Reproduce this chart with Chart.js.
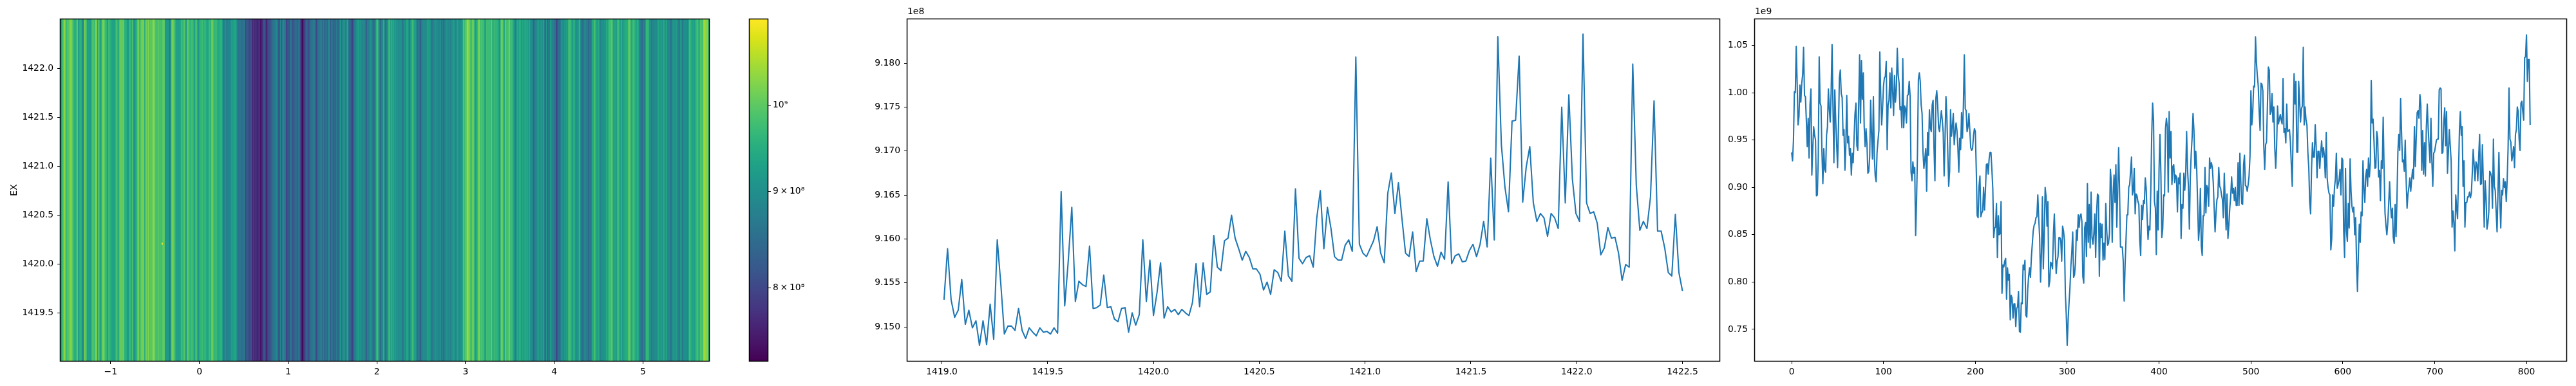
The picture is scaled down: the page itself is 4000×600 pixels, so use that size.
<!DOCTYPE html>
<html>
<head>
<meta charset="utf-8">
<script src="https://cdn.jsdelivr.net/npm/chart.js@4/dist/chart.umd.js"></script>
<style>
  body { margin: 0; background: #fff; }
  canvas { position: absolute; top: 0; }
</style>
</head>
<body>
<canvas id="heat" width="1120" height="600" style="left:0"></canvas>
<canvas id="bar" width="130" height="600" style="left:1130px"></canvas>
<canvas id="line1" width="1370" height="600" style="left:1310px"></canvas>
<canvas id="line2" width="1320" height="600" style="left:2680px"></canvas>
<script>
// second line panel, y in units of 1e8
const exValues = [
  9.1531,9.1589,9.1531,9.1511,9.1519,9.1554,9.1503,9.1519,9.1499,9.1507,9.1479,9.1507,9.1480,9.1526,9.1486,9.1599,
  9.1549,9.1492,9.1501,9.1501,9.1496,9.1521,9.1496,9.1487,9.1499,9.1494,9.1490,9.1499,9.1494,9.1495,9.1492,9.1499,
  9.1493,9.1654,9.1524,9.1575,9.1636,9.1529,9.1552,9.1548,9.1546,9.1592,9.1521,9.1522,9.1525,9.1559,9.1522,9.1523,
  9.1509,9.1506,9.1521,9.1522,9.1494,9.1516,9.1502,9.1514,9.1599,9.1529,9.1576,9.1513,9.1539,9.1573,9.1510,9.1523,
  9.1517,9.1520,9.1514,9.1520,9.1516,9.1513,9.1528,9.1572,9.1523,9.1573,9.1537,9.1540,9.1604,9.1568,9.1564,9.1598,
  9.1601,9.1627,9.1601,9.1589,9.1576,9.1586,9.1579,9.1566,9.1566,9.1560,9.1542,9.1551,9.1537,9.1565,9.1562,9.1552,
  9.1609,9.1558,9.1552,9.1657,9.1578,9.1572,9.1579,9.1581,9.1568,9.1624,9.1655,9.1589,9.1636,9.1612,9.1580,9.1576,
  9.1576,9.1593,9.1599,9.1586,9.1807,9.1594,9.1584,9.1580,9.1589,9.1598,9.1614,9.1584,9.1573,9.1652,9.1675,9.1629,
  9.1664,9.1623,9.1584,9.1580,9.1608,9.1563,9.1575,9.1575,9.1623,9.1599,9.1580,9.1569,9.1585,9.1577,9.1665,9.1572,
  9.1581,9.1583,9.1574,9.1575,9.1587,9.1594,9.1580,9.1594,9.1620,9.1591,9.1692,9.1599,9.1830,9.1707,9.1659,9.1631,
  9.1734,9.1735,9.1808,9.1642,9.1682,9.1705,9.1641,9.1620,9.1629,9.1624,9.1603,9.1629,9.1624,9.1612,9.1750,9.1641,
  9.1764,9.1668,9.1629,9.1620,9.1833,9.1641,9.1629,9.1631,9.1618,9.1582,9.1590,9.1613,9.1601,9.1602,9.1584,9.1553,
  9.1571,9.1568,9.1799,9.1661,9.1610,9.1620,9.1612,9.1648,9.1757,9.1609,9.1609,9.1590,9.1562,9.1558,9.1628,9.1562,
  9.1541
];
// third line panel, y in units of 1e9; the heatmap stripes are the same numbers
const lagValues = [
  0.937,0.928,0.950,1.001,1.000,1.049,1.010,0.966,0.975,1.008,0.990,1.010,1.019,1.048,0.997,0.996,0.971,0.943,0.973,0.931,
  0.987,1.004,0.913,0.941,0.964,0.955,0.950,0.891,0.892,0.932,1.038,0.989,0.986,0.937,0.904,0.941,0.919,0.916,0.955,0.964,
  1.004,0.983,0.969,1.000,1.051,0.987,0.926,1.003,0.971,0.946,0.921,0.964,1.016,1.024,0.999,0.995,0.955,0.961,0.918,0.944,
  0.997,0.947,0.954,0.934,0.941,0.913,0.936,0.926,0.953,0.978,0.989,0.944,0.939,0.987,1.040,0.968,1.034,0.993,1.021,0.964,
  0.943,0.962,0.946,0.915,0.917,0.933,0.992,0.955,0.930,0.996,0.933,0.912,0.906,0.937,0.949,0.960,1.043,0.998,0.966,0.983,
  1.007,1.016,1.017,1.033,0.940,0.987,0.992,1.021,0.984,1.026,1.001,0.976,1.018,0.990,1.003,1.047,1.019,1.010,0.982,0.985,
  0.963,1.036,0.963,0.986,0.983,0.968,0.997,0.998,1.012,0.996,0.916,0.907,0.927,0.915,0.921,0.849,0.885,0.937,1.014,1.021,
  1.012,0.987,0.978,0.937,0.920,0.930,0.941,0.896,0.958,0.934,0.982,0.963,0.959,0.987,0.992,0.941,0.907,0.994,1.002,0.987,
  0.963,0.959,0.971,0.981,0.971,0.958,0.912,0.951,0.996,0.974,0.937,0.901,0.917,0.982,0.954,0.964,0.978,0.945,0.958,0.968,
  0.960,0.942,0.916,0.952,0.940,0.979,0.952,0.987,1.040,0.983,0.981,0.959,0.964,0.978,0.960,0.942,0.939,0.941,0.955,0.962,
  0.959,0.919,0.870,0.868,0.901,0.912,0.869,0.873,0.875,0.900,0.876,0.897,0.924,0.925,0.914,0.930,0.937,0.937,0.919,0.899,
  0.847,0.857,0.858,0.883,0.826,0.870,0.850,0.851,0.885,0.788,0.818,0.816,0.822,0.825,0.782,0.815,0.802,0.808,0.760,0.786,
  0.783,0.762,0.777,0.777,0.753,0.772,0.774,0.790,0.748,0.747,0.778,0.777,0.818,0.813,0.823,0.765,0.763,0.792,0.806,0.815,
  0.805,0.826,0.840,0.854,0.860,0.862,0.868,0.869,0.892,0.867,0.847,0.800,0.831,0.890,0.814,0.851,0.900,0.890,0.859,0.885,
  0.795,0.801,0.821,0.819,0.814,0.851,0.872,0.838,0.809,0.822,0.827,0.847,0.847,0.844,0.822,0.859,0.854,0.844,0.788,0.765,
  0.733,0.760,0.778,0.794,0.817,0.831,0.853,0.805,0.808,0.820,0.855,0.844,0.871,0.858,0.870,0.872,0.864,0.806,0.799,0.857,
  0.863,0.827,0.904,0.842,0.882,0.836,0.895,0.847,0.840,0.851,0.872,0.826,0.873,0.893,0.891,0.806,0.862,0.847,0.861,0.823,
  0.841,0.824,0.883,0.855,0.839,0.841,0.851,0.919,0.906,0.842,0.892,0.913,0.884,0.924,0.858,0.896,0.942,0.896,0.837,0.837,
  0.837,0.822,0.780,0.817,0.844,0.871,0.871,0.900,0.903,0.917,0.932,0.892,0.897,0.920,0.872,0.893,0.891,0.885,0.882,0.844,
  0.828,0.881,0.866,0.886,0.883,0.910,0.899,0.869,0.845,0.859,0.855,0.896,0.955,0.989,0.971,0.885,0.878,0.829,0.896,0.855,
  0.919,0.956,0.914,0.847,0.856,0.892,0.891,0.962,0.973,0.964,0.895,0.980,0.931,0.959,0.903,0.922,0.924,0.905,0.913,0.911,
  0.874,0.910,0.904,0.915,0.846,0.882,0.878,0.915,0.897,0.914,0.959,0.919,0.901,0.856,0.910,0.935,0.953,0.978,0.960,0.920,
  0.938,0.919,0.883,0.844,0.858,0.899,0.838,0.828,0.870,0.870,0.921,0.873,0.902,0.899,0.880,0.931,0.920,0.926,0.921,0.905,
  0.878,0.853,0.873,0.887,0.890,0.921,0.901,0.899,0.892,0.887,0.868,0.915,0.885,0.855,0.893,0.846,0.860,0.878,0.890,0.911,
  0.894,0.899,0.886,0.900,0.881,0.881,0.926,0.881,0.936,0.906,0.883,0.882,0.924,0.934,0.902,0.901,0.896,0.903,0.912,0.933,
  1.002,0.966,0.980,1.007,1.006,1.059,1.032,1.018,1.007,0.980,0.960,1.010,1.009,1.002,0.944,0.919,0.945,0.948,0.987,1.027,
  1.024,0.977,0.980,0.999,0.969,0.985,0.941,0.920,0.944,0.986,0.967,0.972,0.977,0.971,0.967,1.015,0.958,0.962,0.947,0.988,
  0.959,0.960,0.961,0.948,0.924,0.901,0.964,1.020,0.988,1.012,0.937,0.937,1.012,0.992,0.969,0.983,0.986,1.048,0.966,0.985,
  0.971,0.966,0.937,0.921,0.885,0.872,0.919,0.947,0.932,0.932,0.966,0.944,0.910,0.938,0.938,0.920,0.937,0.949,0.932,0.942,
  0.933,0.910,0.958,0.910,0.900,0.894,0.892,0.834,0.846,0.892,0.880,0.900,0.909,0.936,0.899,0.903,0.908,0.919,0.892,0.931,
  0.929,0.854,0.826,0.920,0.854,0.843,0.883,0.857,0.930,0.896,0.880,0.874,0.879,0.850,0.868,0.822,0.790,0.829,0.861,0.842,
  0.874,0.870,0.928,0.899,0.884,0.912,0.919,0.901,0.931,0.911,0.926,1.013,0.968,0.972,0.949,0.920,0.921,0.959,0.952,0.911,
  0.918,0.886,0.928,0.920,0.974,0.919,0.873,0.860,0.850,0.862,0.883,0.906,0.881,0.868,0.878,0.847,0.841,0.882,0.848,0.887,
  0.937,0.956,0.939,0.994,0.958,0.927,0.929,0.917,0.950,0.908,0.878,0.893,0.900,0.910,0.896,0.908,0.919,0.909,0.964,0.922,
  0.953,0.979,0.981,0.973,0.998,0.987,0.918,0.960,0.914,0.947,0.912,0.964,0.988,0.962,0.944,0.926,0.973,0.928,0.901,0.936,
  0.938,0.944,0.950,0.951,0.951,1.003,1.005,1.004,0.936,0.937,0.969,0.984,0.944,0.980,0.915,0.937,0.961,0.944,0.928,0.858,
  0.875,0.862,0.833,0.892,0.878,0.867,0.915,0.960,0.980,0.955,0.964,0.901,0.928,0.858,0.884,0.884,0.890,0.890,0.895,0.889,
  0.894,0.915,0.940,0.924,0.907,0.927,0.924,0.907,0.933,0.956,0.903,0.904,0.945,0.906,0.858,0.907,0.890,0.856,0.862,0.874,
  0.917,0.915,0.911,0.878,0.951,0.901,0.897,0.874,0.853,0.897,0.937,0.887,0.857,0.897,0.892,0.909,0.900,0.906,0.885,0.908,
  0.942,1.005,0.951,0.948,0.928,0.934,0.943,0.921,0.956,0.961,0.985,0.980,0.951,0.939,0.989,0.991,0.980,0.971,1.037,1.038,
  1.061,1.012,1.035,1.035,0.966
];
// axis ticks
const heatXTicks = [-1, 0, 1, 2, 3, 4, 5];
const heatXLabels = ['\u22121', '0', '1', '2', '3', '4', '5'];
const heatYTicks = [1419.5, 1420, 1420.5, 1421, 1421.5, 1422];
const barTicks = [8e8, 9e8, 1e9];
const barLabels = ['8\u2009\u00d7\u200910\u2078', '9\u2009\u00d7\u200910\u2078', '10\u2079'];
const exXTicks = [1419, 1419.5, 1420, 1420.5, 1421, 1421.5, 1422, 1422.5];
const exYTicks = [9.15, 9.155, 9.16, 9.165, 9.17, 9.175, 9.18];
const lagXTicks = [0, 100, 200, 300, 400, 500, 600, 700, 800];
const lagYTicks = [0.75, 0.8, 0.85, 0.9, 0.95, 1, 1.05];
// the single bright cell in the heatmap
const hotX = [-0.419];
const hotY = [[1420.2, 1420.215]];

const EX_START = 1419.01, EX_END = 1422.5;
const LAG_START = -1.565, LAG_END = 5.745;
const V_MIN = 0.7315e9, V_MAX = 1.111e9;
const viridis = ['#440154','#481467','#482576','#453781','#404688','#39568c','#33638d','#2d708e','#287d8e','#238a8d','#1f968b','#20a386','#29af7f','#3cbc75','#56c667','#74d055','#94d840','#b8de29','#dce318','#fde725'];

const FONT = { family: 'DejaVu Sans', size: 13.9 };

function mix(a, b, t) {
  const ca = [1, 3, 5].map(i => parseInt(a.substr(i, 2), 16));
  const cb = [1, 3, 5].map(i => parseInt(b.substr(i, 2), 16));
  return 'rgb(' + ca.map((c, i) => Math.round(c + (cb[i] - c) * t)).join(',') + ')';
}

function colorFor(v) {
  const t = Math.log(v / V_MIN) / Math.log(V_MAX / V_MIN);
  const p = Math.min(Math.max(t, 0), 1) * (viridis.length - 1);
  const i = Math.min(Math.floor(p), viridis.length - 2);
  return mix(viridis[i], viridis[i + 1], p - i);
}

// black frame round the plot area, all four sides
const frame = {
  id: 'frame',
  afterDraw(chart) {
    const { left, top, right, bottom } = chart.chartArea;
    const c = chart.ctx;
    c.save();
    c.strokeStyle = '#000';
    c.lineWidth = 1.5;
    c.strokeRect(left - 0.5, top - 0.5, right - left + 1, bottom - top + 1);
    c.restore();
  },
};

function tickOptions(values, labels, size) {
  return {
    afterBuildTicks: s => { s.ticks = values.map(value => ({ value })); },
    grid: { display: true, drawOnChartArea: false, drawTicks: true, tickLength: 5, tickColor: '#000', tickWidth: 1 },
    border: { display: false },
    ticks: {
      autoSkip: false, maxRotation: 0, minRotation: 0, color: '#000', font: FONT, padding: size,
      callback: (v, i) => labels[i],
    },
  };
}

function xAxis(min, max, values, labels) {
  return {
    type: 'linear', min, max, offset: false,
    afterFit: s => { s.height = 39; },
    ...tickOptions(values, labels, 4),
    grid: { ...tickOptions(values, labels, 4).grid, offset: false },
  };
}

function yAxis(min, max, values, labels, width) {
  return {
    type: 'linear', min, max,
    afterFit: s => { s.width = width; },
    ...tickOptions(values, labels, 6),
  };
}

const basePlugins = { legend: { display: false }, tooltip: { enabled: false } };

// heatmap: one floating bar per column, coloured from lagValues
const lagStep = (LAG_END - LAG_START) / lagValues.length;
new Chart(document.getElementById('heat'), {
  type: 'bar',
  data: {
    datasets: [
      {
        data: hotX.map((x, i) => ({ x, y: hotY[i] })),
        backgroundColor: colorFor(V_MAX),
        barThickness: 1.3,
        grouped: false,
        order: 0,
      },
      {
        data: lagValues.map((v, i) => ({ x: LAG_START + (i + 0.5) * lagStep, y: [EX_START, EX_END] })),
        backgroundColor: lagValues.map(v => colorFor(v * 1e9)),
        barThickness: 1.7,
        grouped: false,
        order: 1,
      },
    ],
  },
  options: {
    responsive: false, animation: false,
    layout: { padding: { top: 30, right: 19 } },
    plugins: basePlugins,
    scales: {
      x: xAxis(LAG_START, LAG_END, heatXTicks, heatXLabels),
      y: {
        ...yAxis(EX_START, EX_END, heatYTicks, heatYTicks.map(v => v.toFixed(1)), 94),
        title: { display: true, text: 'EX', color: '#000', font: FONT, padding: { top: 14, bottom: 0 } },
      },
    },
  },
  plugins: [frame],
});

// colorbar on its own log axis
new Chart(document.getElementById('bar'), {
  type: 'bar',
  data: {
    labels: [''],
    datasets: [{
      data: [[V_MIN, V_MAX]],
      barPercentage: 1,
      categoryPercentage: 1,
      backgroundColor: ctx => {
        const area = ctx.chart.chartArea;
        if (!area) return viridis[0];
        const g = ctx.chart.ctx.createLinearGradient(0, area.bottom, 0, area.top);
        viridis.forEach((c, i) => g.addColorStop(i / (viridis.length - 1), c));
        return g;
      },
    }],
  },
  options: {
    responsive: false, animation: false,
    layout: { padding: { top: 30, bottom: 39, left: 34 } },
    plugins: basePlugins,
    scales: {
      x: { display: false },
      y: {
        type: 'logarithmic', position: 'right', min: V_MIN, max: V_MAX,
        afterFit: s => { s.width = 68; },
        ...tickOptions(barTicks, barLabels, 3),
      },
    },
  },
  plugins: [frame],
});

function lineChart(id, points, offset, xs, ys, yw, rightPad) {
  new Chart(document.getElementById(id), {
    type: 'line',
    data: {
      datasets: [{
        data: points,
        borderColor: '#1f77b4',
        borderWidth: 2.08,
        borderJoinStyle: 'round',
        pointRadius: 0,
        tension: 0,
      }],
    },
    options: {
      responsive: false, animation: false,
      layout: { padding: { right: rightPad } },
      plugins: {
        ...basePlugins,
        title: {
          display: true, text: offset, align: 'start', fullSize: false, color: '#000',
          font: { ...FONT, weight: 'normal', lineHeight: 1 },
          padding: { top: 11, bottom: 5 },
        },
      },
      scales: { x: xs, y: { ...ys, afterFit: s => { s.width = yw; } } },
    },
    plugins: [frame],
  });
}

const exStep = (EX_END - EX_START) / (exValues.length - 1);
lineChart('line1', exValues.map((y, i) => ({ x: EX_START + i * exStep, y })), '1e8',
  xAxis(1418.837, 1422.675, exXTicks, exXTicks.map(v => v.toFixed(1))),
  yAxis(9.14614, 9.18499, exYTicks, exYTicks.map(v => v.toFixed(3)), 99), 99, 10);

lineChart('line2', lagValues.map((y, x) => ({ x, y })), '1e9',
  xAxis(-40, 843.4, lagXTicks, lagXTicks.map(String)),
  yAxis(0.7167, 1.0776, lagYTicks, lagYTicks.map(v => v.toFixed(2)), 45), 45, 15);
</script>
</body>
</html>
